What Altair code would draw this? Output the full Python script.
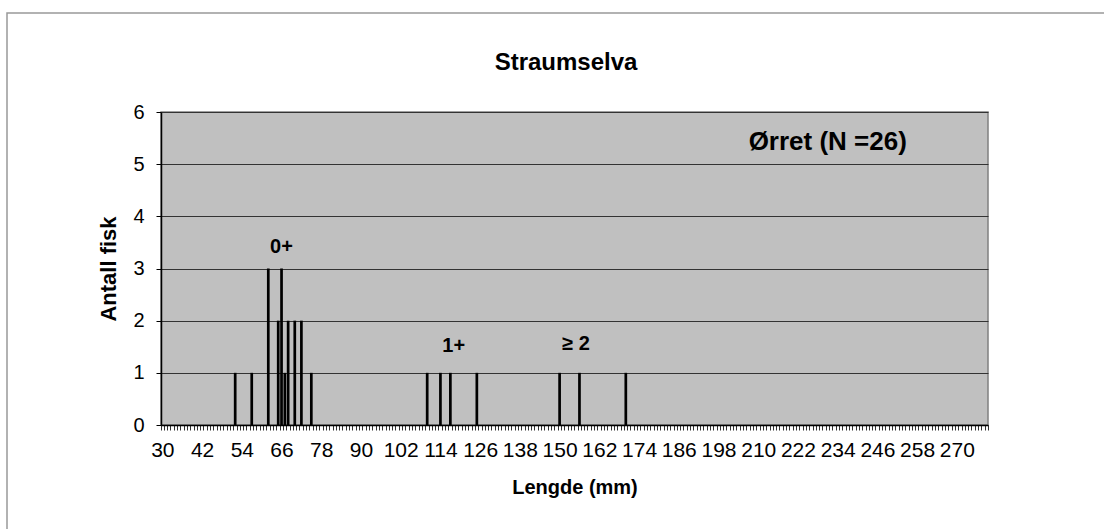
import altair as alt
import pandas as pd

# Axis categories (mm)
categories = list(range(30, 280))
# Observed lengths and counts
lengths = [52, 57, 62, 65, 66, 67, 68, 70, 72, 75, 110, 114, 117, 125, 150, 156, 170]
counts = [1, 1, 3, 2, 3, 1, 2, 2, 2, 1, 1, 1, 1, 1, 1, 1, 1]

ann_text = ["0+", "1+", "≥ 2"]
ann_x = [66, 118, 155]
ann_y = [3.42, 1.52, 1.56]

legend_text = ["Ørret (N =26)"]
legend_x = [231]
legend_y = [5.42]

chart_title = "Straumselva"

FONT = "Liberation Sans"

bars_df = pd.DataFrame({"len": lengths, "n": counts})
ann_df = pd.DataFrame({"t": ann_text, "len": ann_x, "n": ann_y})
leg_df = pd.DataFrame({"t": legend_text, "len": legend_x, "n": legend_y})

xscale = alt.Scale(domain=categories, paddingInner=0.18, paddingOuter=0)
yscale = alt.Scale(domain=[0, 6])

xaxis = alt.Axis(
    title="Lengde (mm)",
    labelExpr="(datum.value - 30) % 12 == 0 ? datum.value : ''",
    labelOverlap=False,
    labelAngle=0,
    labelFontSize=21,
    labelColor="black",
    labelFont=FONT,
    labelPadding=9,
    tickSize=5,
    tickColor="#333333",
    tickBand="extent",
    domainColor="black",
    domainWidth=1.5,
    grid=False,
    titleFontSize=20,
    titleFont=FONT,
    titleFontWeight="bold",
    titleColor="black",
    titlePadding=17,
)
yaxis = alt.Axis(
    title="Antall fisk",
    values=[0, 1, 2, 3, 4, 5, 6],
    labelFontSize=20,
    labelColor="black",
    labelFont=FONT,
    labelPadding=12,
    tickSize=5,
    tickColor="black",
    domainColor="black",
    domainWidth=1.5,
    grid=True,
    gridColor="#333333",
    gridWidth=1,
    titleFontSize=22,
    titleFont=FONT,
    titleFontWeight="bold",
    titleColor="black",
    titlePadding=12,
)

bars = alt.Chart(bars_df).mark_bar(color="black").encode(
    x=alt.X("len:O", scale=xscale, axis=xaxis, sort=categories),
    y=alt.Y("n:Q", scale=yscale, axis=yaxis),
)

ann = alt.Chart(ann_df).mark_text(
    fontSize=20, fontWeight="bold", font=FONT, color="black", align="center", baseline="middle"
).encode(
    x=alt.X("len:O", scale=xscale, sort=categories),
    y=alt.Y("n:Q", scale=yscale),
    text="t:N",
)

leg = alt.Chart(leg_df).mark_text(
    fontSize=26, fontWeight="bold", font=FONT, color="black", align="center", baseline="middle"
).encode(
    x=alt.X("len:O", scale=xscale, sort=categories),
    y=alt.Y("n:Q", scale=yscale),
    text="t:N",
)

title = alt.Chart(pd.DataFrame({"t": [chart_title]})).mark_text(
    fontSize=24, fontWeight="bold", font=FONT, color="black", align="center",
    baseline="middle", clip=False
).encode(
    x=alt.value(566 - 161), y=alt.value(63 - 112), text="t:N",
)

border = alt.Chart(pd.DataFrame({"a": [0]})).mark_rect(
    fill=None, stroke="#999999", strokeWidth=1.5, clip=False
).encode(
    x=alt.value(7 - 161), x2=alt.value(1104 - 161 + 20),
    y=alt.value(13 - 112), y2=alt.value(529 - 112 + 20),
)

chart = alt.layer(border, bars, ann, leg, title).properties(
    width=827,
    height=313,
    autosize=alt.AutoSizeParams(type="none"),
    padding={"left": 161, "top": 112, "right": 116, "bottom": 104},
    background="white",
).configure_view(
    fill="#C0C0C0", stroke="#808080", strokeWidth=1.5
)

chart.save("out.html", embed_options={"renderer": "svg", "actions": False})
